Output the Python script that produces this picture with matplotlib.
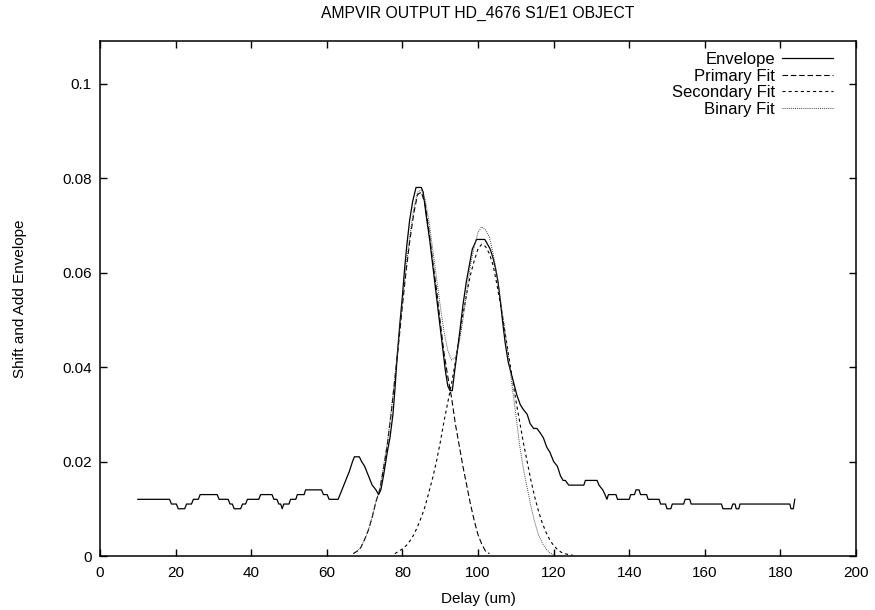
import matplotlib
matplotlib.use('Agg')
import matplotlib.pyplot as plt
from matplotlib.ticker import FuncFormatter

plt.rcParams['font.family'] = ['Liberation Sans', 'DejaVu Sans']
plt.rcParams['lines.scale_dashes'] = False

# envelope (stepped, quantised to 0.001)
env_x = [10, 18.4, 18.9, 20.2, 20.7, 22.4, 22.9, 24.2, 24.7, 26.0, 26.5, 31.0, 31.5,
         33.9, 34.4, 35.0, 35.5, 37.2, 37.7, 38.5, 39.0, 42.0, 42.5, 45.5, 46.0, 46.8,
         47.3, 47.8, 48.2, 48.6, 50.0, 50.4, 51.8, 52.2, 54.0, 54.4, 58.6, 59.1, 60.1,
         60.6, 62.5, 63, 64, 65, 66, 66.8, 67.3, 68.6, 69.2, 70, 71, 72, 73, 73.7, 74.3,
         75, 76, 76.7, 77.5, 78, 78.6, 79.3, 80, 80.6, 81.2, 81.9, 82.7, 83.3, 83.6, 85.0,
         85.5, 86.3, 87.2, 88.1, 89, 89.9, 90.7, 91.4, 92, 92.6, 93.2, 93.8, 94.3, 95.1,
         96, 96.9, 97.8, 98.5, 99.1, 99.6, 101.8, 102.5, 103.2, 104, 104.6, 105.3, 105.9,
         106.6, 107.2, 108, 109, 110.3, 111.2, 112, 113, 113.8, 114.7, 115.6, 116.5, 117.3,
         118.2, 119, 120, 121, 121.8, 122.5, 123.1, 124, 128, 128.4, 131.5, 132, 133,
         133.6, 134.1, 134.5, 136.5, 136.9, 140, 140.4, 141.4, 141.8, 142.6, 143, 144.6,
         145, 147.9, 148.3, 149.6, 150, 151, 151.4, 154.4, 154.8, 156, 156.4, 164.4, 164.8,
         167, 167.4, 168, 168.3, 169, 169.3, 182.5, 182.8, 183.4, 183.8]
env_y = [0.012, 0.012, 0.011, 0.011, 0.010, 0.010, 0.011, 0.011, 0.012, 0.012, 0.013, 0.013, 0.012,
         0.012, 0.011, 0.011, 0.010, 0.010, 0.011, 0.011, 0.012, 0.012, 0.013, 0.013, 0.012, 0.012,
         0.011, 0.011, 0.010, 0.011, 0.011, 0.012, 0.012, 0.013, 0.013, 0.014, 0.014, 0.013, 0.013,
         0.012, 0.012, 0.012, 0.014, 0.016, 0.018, 0.020, 0.021, 0.021, 0.020, 0.019, 0.017, 0.015, 0.014, 0.013, 0.014,
         0.017, 0.022, 0.025, 0.030, 0.035, 0.042, 0.049, 0.055, 0.061, 0.066, 0.071, 0.075, 0.077, 0.078, 0.078,
         0.077, 0.072, 0.067, 0.061, 0.055, 0.049, 0.0435, 0.039, 0.036, 0.035, 0.035, 0.039, 0.042, 0.047,
         0.053, 0.058, 0.062, 0.065, 0.066, 0.067, 0.067, 0.066, 0.065, 0.063, 0.061, 0.058, 0.054,
         0.049, 0.045, 0.041, 0.038, 0.034, 0.032, 0.031, 0.030, 0.028, 0.027, 0.027, 0.026, 0.025,
         0.023, 0.022, 0.020, 0.019, 0.017, 0.016, 0.016, 0.015, 0.015, 0.016, 0.016, 0.015, 0.014,
         0.013, 0.012, 0.013, 0.013, 0.012, 0.012, 0.013, 0.013, 0.014, 0.014, 0.013, 0.013,
         0.012, 0.012, 0.011, 0.011, 0.010, 0.010, 0.011, 0.011, 0.012, 0.012, 0.011, 0.011, 0.010,
         0.010, 0.011, 0.011, 0.010, 0.010, 0.011, 0.011, 0.010, 0.010, 0.012]

# primary fit
prim_x = list(range(67, 104))
prim_y = [0.0005, 0.0010, 0.0018, 0.0035, 0.0055, 0.0082, 0.0115, 0.0140, 0.0185, 0.0235,
          0.0300, 0.0375, 0.0450, 0.0530, 0.0605, 0.0670, 0.0725, 0.0765, 0.0770, 0.0745,
          0.0690, 0.0625, 0.0565, 0.0495, 0.0430, 0.0380, 0.0335, 0.0280, 0.0235, 0.0190,
          0.0150, 0.0110, 0.0075, 0.0045, 0.0025, 0.0010, 0.0005]

# secondary fit
sec_x = list(range(78, 126))
sec_y = [0.0005, 0.0010, 0.0015, 0.0022, 0.0032, 0.0045, 0.0062, 0.0082, 0.0105, 0.0135,
         0.0165, 0.0200, 0.0240, 0.0285, 0.0325, 0.0365, 0.0410, 0.0460, 0.0510, 0.0555,
         0.0595, 0.0625, 0.0650, 0.0660, 0.0655, 0.0640, 0.0615, 0.0575, 0.0530, 0.0480,
         0.0430, 0.0380, 0.0330, 0.0285, 0.0240, 0.0200, 0.0160, 0.0125, 0.0095, 0.0070,
         0.0050, 0.0034, 0.0022, 0.0014, 0.0008, 0.0005, 0.0003, 0.0002]

# binary fit
bin_x = list(range(67, 121))
bin_y = [0.0005, 0.0010, 0.0018, 0.0035, 0.0055, 0.0082, 0.0115, 0.0142, 0.0190, 0.0240,
         0.0305, 0.0380, 0.0458, 0.0540, 0.0615, 0.0680, 0.0735, 0.0770, 0.0775, 0.0755,
         0.0710, 0.0650, 0.0590, 0.0530, 0.0475, 0.0435, 0.0415, 0.0420, 0.0450, 0.0500,
         0.0560, 0.0615, 0.0655, 0.0685, 0.0697, 0.0690, 0.0675, 0.0640, 0.0595, 0.0540,
         0.0485, 0.0425, 0.0360, 0.0300, 0.0235, 0.0185, 0.0145, 0.0105, 0.0072, 0.0045,
         0.0027, 0.0015, 0.0007, 0.0002]

fig = plt.figure(figsize=(8.75, 6.1), dpi=100)
ax = fig.add_axes([0.1143, 0.0885, 0.864, 0.8443])

ax.plot(env_x, env_y, color='black', lw=0.9, label='Envelope')
ax.plot(prim_x, prim_y, color='black', lw=0.8, ls=(0, (4, 2)), label='Primary Fit')
ax.plot(sec_x, sec_y, color='black', lw=0.8, ls=(0, (2.2, 2.2)), label='Secondary Fit')
ax.plot(bin_x, bin_y, color='#444444', lw=0.7, ls=(0, (0.7, 0.8)), label='Binary Fit')

ax.set_xlim(0, 200)
ax.set_ylim(0, 0.109)
ax.set_xticks(range(0, 201, 20))
ax.set_yticks([0, 0.02, 0.04, 0.06, 0.08, 0.1])
ax.yaxis.set_major_formatter(FuncFormatter(lambda v, p: '%g' % round(v, 3)))
ax.tick_params(direction='in', length=5, width=1, top=True, right=True,
               labelsize=11)
ax.tick_params(axis='x', pad=7)
ax.tick_params(axis='y', pad=6)
for s in ax.spines.values():
    s.set_linewidth(1.1)

ax.set_title('AMPVIR OUTPUT HD_4676 S1/E1 OBJECT', fontsize=11.3, pad=17)
ax.set_xlabel('Delay (um)', fontsize=11, labelpad=9)
ax.set_ylabel('Shift and Add Envelope', fontsize=11)
ax.yaxis.set_label_coords(-0.097, 0.5)

ax.legend(loc='upper right', frameon=False, markerfirst=False, fontsize=12,
          handlelength=3.1, handletextpad=0.4, labelspacing=0.1,
          bbox_to_anchor=(0.99, 1.008))

fig.savefig('out.png', dpi=100)
